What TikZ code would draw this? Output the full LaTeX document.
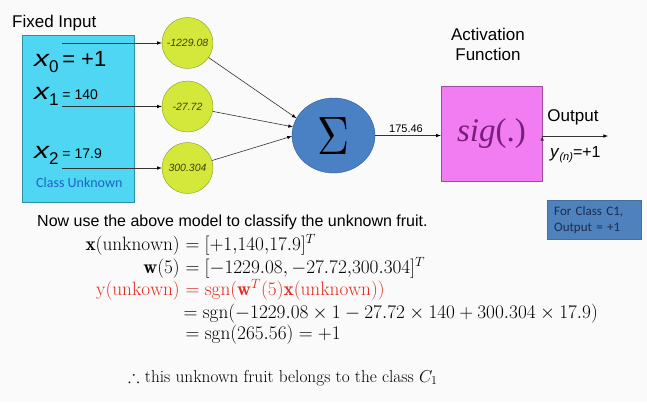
\documentclass[tikz,border=0pt]{standalone}
\usepackage{amssymb}
\usepackage{fontspec}
\usepackage{graphicx}
\usetikzlibrary{shapes.geometric}

\newfontfamily\arial{Liberation Sans}
\newfontfamily\calib{Carlito}
\newfontfamily\tmsfont{Liberation Serif}

\definecolor{bg}{HTML}{FAFAFB}
\definecolor{cyanfill}{HTML}{4FD6F2}
\definecolor{cyanedge}{HTML}{2E8FA6}
\definecolor{wfill}{HTML}{D4E83C}
\definecolor{wedge}{HTML}{8A9A22}
\definecolor{wtext}{HTML}{3F4010}
\definecolor{sumfill}{HTML}{4A80C4}
\definecolor{sumedge}{HTML}{2F5C91}
\definecolor{sigfill}{HTML}{F27DF2}
\definecolor{sigedge}{HTML}{A04AA0}
\definecolor{sigtext}{HTML}{7A1E7E}
\definecolor{notefill}{HTML}{4F81BD}
\definecolor{notetext}{HTML}{1B2D4F}
\definecolor{classblue}{HTML}{1F63C6}
\definecolor{eqred}{HTML}{E52A20}

\newcommand{\xin}[2]{{\fontsize{23}{23}\selectfont\itshape\scalebox{1.3}[1]{x}}\raisebox{-6pt}{\fontsize{17}{17}\selectfont #1}#2}
\newcommand{\eqn}[1]{\scalebox{1.115}{$#1$}}

\tikzstyle{lbl}=[inner sep=0pt, font=\arial\fontsize{17}{20}\selectfont]
\tikzstyle{weight}=[circle, draw=wedge, fill=wfill, minimum size=51pt, inner sep=0pt, font=\arial\itshape\fontsize{10.5}{12}\selectfont, text=wtext]
\tikzstyle{eq}=[inner sep=0pt, font=\fontsize{17.28}{20}\selectfont]

\begin{document}
\begin{tikzpicture}[x=1pt,y=-1pt,>=latex]

\fill[bg] (0,0) rectangle (647,402);
\useasboundingbox (0,0) rectangle (647,402);

% inputs
\node [lbl, anchor=base west] (fixed) at (12,27) {Fixed Input};
\node [draw=cyanedge, fill=cyanfill, minimum width=112pt, minimum height=167pt, anchor=north west] (inbox) at (22,35) {};
\node [lbl, anchor=base west] (x0) at (34,66) {\xin{0}{\fontsize{22}{22}\selectfont\,= +1}};
\node [lbl, anchor=base west] (x1) at (34,99) {\xin{1}{\fontsize{14}{14}\selectfont\ = 140}};
\node [lbl, anchor=base west] (x2) at (34,158) {\xin{2}{\fontsize{14}{14}\selectfont\ = 17.9}};
\node [anchor=base west, inner sep=0pt, font=\calib\fontsize{14}{14}\selectfont, text=classblue] (cls) at (36,187) {Class Unknown};

\coordinate (i0) at (62,43);
\coordinate (i1) at (62,106.5);
\coordinate (i2) at (62,168);

% weights
\node [weight] (w0) at (187.5,43) {-1229.08};
\node [weight] (w1) at (187.5,106.5) {-27.72};
\node [weight] (w2) at (187.5,168) {300.304};

% sum and activation
\node [ellipse, draw=sumedge, fill=sumfill, minimum width=83pt, minimum height=75pt, inner sep=0pt] (sum) at (333.5,135.5) {\resizebox{32pt}{37pt}{$\Sigma$}};
\node [draw=sigedge, fill=sigfill, minimum width=101pt, minimum height=95pt, inner sep=0pt] (sig) at (491.5,133.5) {\tmsfont\fontsize{33}{33}\selectfont\color{sigtext}\textit{sig}(.)};
\node [lbl, align=center] (act) at (488,44) {Activation\\Function};
\node [lbl, anchor=base, font=\arial\fontsize{11}{12}\selectfont] (net) at (406,132) {175.46};

\coordinate (out) at (608,136);
\node [lbl, anchor=base] (outlbl) at (573,121) {Output};
\node [lbl, anchor=base west] (yn) at (550,157) {\textit{y}\raisebox{-3pt}{\fontsize{11}{11}\selectfont\textit{(n)}}\fontsize{16}{16}\selectfont=+1};

\node [fill=notefill, draw=notefill!85!black, minimum height=39pt, text width=80pt, inner xsep=7pt, inner ysep=0pt, align=left, anchor=north west, font=\calib\fontsize{13}{16}\selectfont, text=notetext] (note) at (547,200) {For Class C1,\\Output = +1};

\path [->, draw=black!80, line width=0.6pt]
		(i0) edge (w0) (i1) edge (w1) (i2) edge (w2)
		(w0) edge (sum.155) (w1) edge (sum.168) (w2) edge (sum.181)
		(sum.east) edge (sig.west |- sum.east)
		(sig.east |- out) edge (out)
;

% worked example
\node [lbl, anchor=base west, font=\arial\fontsize{16}{16}\selectfont] (now) at (37,226) {Now use the above model to classify the unknown fruit.};

\node [eq, anchor=base east] (xl) at (180,250) {\eqn{\mathbf{x}(\mathrm{unknown})}};
\node [eq, anchor=base west] (xr) at (180,250) {\eqn{{}= [+1{,}140{,}17.9]^T}};
\node [eq, anchor=base east] (wl) at (180,273) {\eqn{\mathbf{w}(5)}};
\node [eq, anchor=base west] (wr) at (180,273) {\eqn{{}= [-1229.08, -27.72{,}300.304]^T}};
\node [eq, anchor=base east, text=eqred] (yl) at (180,295) {\eqn{\mathrm{y}(\mathrm{unkown})}};
\node [eq, anchor=base west, text=eqred] (yr) at (180,295) {\eqn{{}= \mathrm{sgn}(\mathbf{w}^T(5)\mathbf{x}(\mathrm{unknown}))}};
\node [eq, anchor=base west] (s1) at (178,318) {\eqn{{}= \mathrm{sgn}(-1229.08\times 1-27.72\times 140+300.304\times 17.9)}};
\node [eq, anchor=base west] (s2) at (180,339) {\eqn{{}= \mathrm{sgn}(265.56) = +1}};

\node [eq, anchor=base west] (conc) at (128,382) {$\therefore$ this unknown fruit belongs to the class $C_1$};

\end{tikzpicture}
\end{document}
